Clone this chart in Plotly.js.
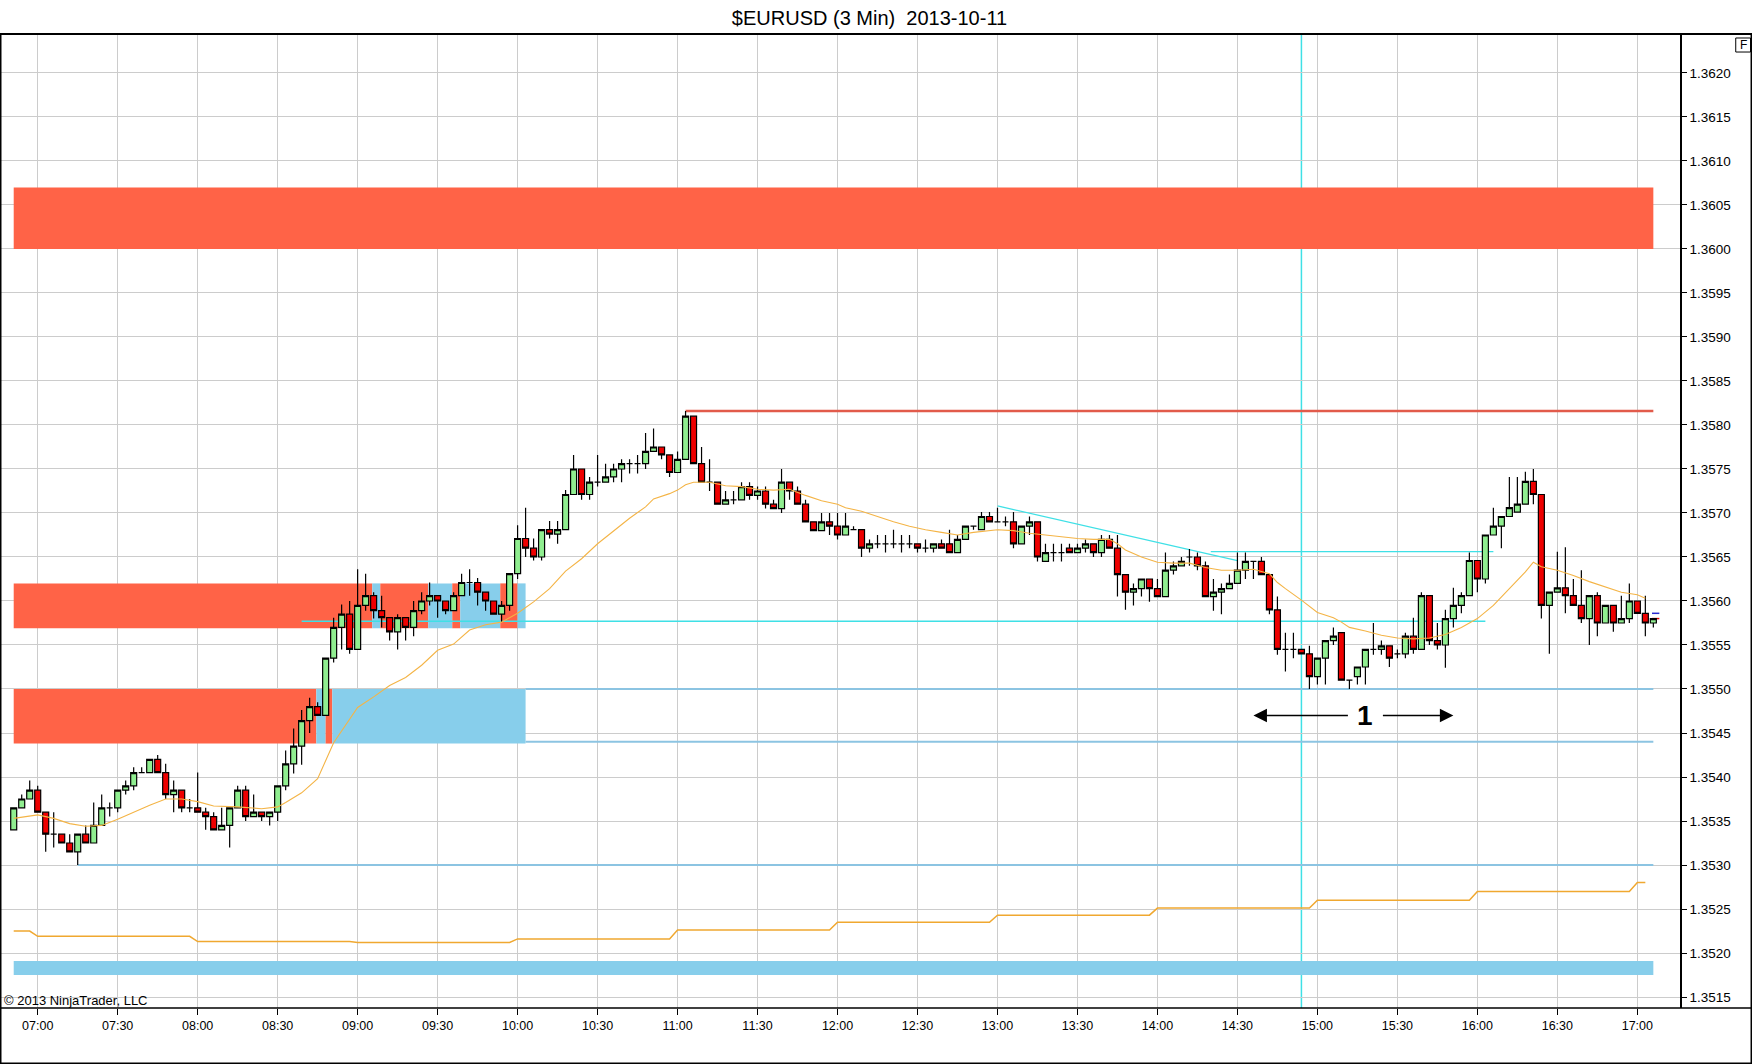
<!DOCTYPE html>
<html>
<head>
<meta charset="utf-8">
<title>$EURUSD (3 Min) 2013-10-11</title>
<script src="https://cdn.plot.ly/plotly-3.0.1.min.js"></script>
<style>
  html, body { margin: 0; padding: 0; background: #ffffff; }
  #grafico { width: 1752px; height: 1064px; }
</style>
</head>
<body>
<div id="grafico"></div>
<script>
const day = '2013-10-11 ';
const firstBar = '06:51';
const barMinutes = 3;

// OHLC, one value per 3 min bar from 06:51 to 17:06
const opens = [
  1.35340, 1.35365, 1.35375, 1.35385, 1.35360, 1.35335, 1.35335, 1.35325, 1.35315, 1.35335,
  1.35325, 1.35345, 1.35365, 1.35365, 1.35385, 1.35390, 1.35405, 1.35405, 1.35420, 1.35405,
  1.35380, 1.35385, 1.35365, 1.35365, 1.35360, 1.35355, 1.35340, 1.35345, 1.35365, 1.35385,
  1.35355, 1.35360, 1.35355, 1.35360, 1.35390, 1.35415, 1.35435, 1.35464, 1.35480, 1.35470,
  1.35535, 1.35570, 1.35585, 1.35545, 1.35595, 1.35606, 1.35589, 1.35581, 1.35565, 1.35581,
  1.35570, 1.35589, 1.35600, 1.35606, 1.35600, 1.35589, 1.35606, 1.35621, 1.35621, 1.35610,
  1.35600, 1.35585, 1.35595, 1.35631, 1.35671, 1.35660, 1.35650, 1.35681, 1.35676, 1.35681,
  1.35721, 1.35750, 1.35721, 1.35735, 1.35735, 1.35741, 1.35750, 1.35756, 1.35756, 1.35756,
  1.35770, 1.35775, 1.35766, 1.35746, 1.35761, 1.35810, 1.35756, 1.35735, 1.35735, 1.35710,
  1.35715, 1.35715, 1.35730, 1.35720, 1.35725, 1.35710, 1.35705, 1.35735, 1.35725, 1.35710,
  1.35690, 1.35680, 1.35690, 1.35685, 1.35675, 1.35681, 1.35681, 1.35660, 1.35665, 1.35665,
  1.35665, 1.35665, 1.35665, 1.35665, 1.35660, 1.35660, 1.35665, 1.35665, 1.35655, 1.35670,
  1.35685, 1.35681, 1.35696, 1.35690, 1.35690, 1.35690, 1.35665, 1.35685, 1.35690, 1.35645,
  1.35655, 1.35655, 1.35660, 1.35655, 1.35660, 1.35665, 1.35655, 1.35670, 1.35660, 1.35630,
  1.35610, 1.35614, 1.35625, 1.35614, 1.35605, 1.35635, 1.35640, 1.35650, 1.35650, 1.35640,
  1.35605, 1.35610, 1.35614, 1.35620, 1.35635, 1.35645, 1.35645, 1.35630, 1.35590, 1.35545,
  1.35545, 1.35545, 1.35540, 1.35514, 1.35535, 1.35555, 1.35564, 1.35510, 1.35514, 1.35525,
  1.35545, 1.35545, 1.35549, 1.35540, 1.35540, 1.35560, 1.35545, 1.35606, 1.35555, 1.35550,
  1.35580, 1.35595, 1.35606, 1.35646, 1.35625, 1.35675, 1.35685, 1.35696, 1.35701, 1.35710,
  1.35736, 1.35721, 1.35595, 1.35610, 1.35615, 1.35606, 1.35595, 1.35580, 1.35606, 1.35575,
  1.35595, 1.35575, 1.35580, 1.35600, 1.35586, 1.35575
];
const highs = [
  1.35365, 1.35380, 1.35396, 1.35390, 1.35360, 1.35360, 1.35335, 1.35335, 1.35335, 1.35345,
  1.35371, 1.35380, 1.35371, 1.35385, 1.35396, 1.35411, 1.35411, 1.35420, 1.35425, 1.35415,
  1.35396, 1.35385, 1.35375, 1.35405, 1.35365, 1.35360, 1.35365, 1.35365, 1.35390, 1.35390,
  1.35380, 1.35360, 1.35360, 1.35390, 1.35430, 1.35455, 1.35476, 1.35490, 1.35485, 1.35535,
  1.35581, 1.35596, 1.35600, 1.35636, 1.35631, 1.35610, 1.35606, 1.35581, 1.35585, 1.35581,
  1.35600, 1.35610, 1.35621, 1.35606, 1.35600, 1.35610, 1.35631, 1.35636, 1.35626, 1.35610,
  1.35600, 1.35600, 1.35631, 1.35686, 1.35706, 1.35671, 1.35681, 1.35691, 1.35691, 1.35726,
  1.35766, 1.35750, 1.35741, 1.35766, 1.35756, 1.35756, 1.35761, 1.35761, 1.35766, 1.35791,
  1.35796, 1.35775, 1.35766, 1.35770, 1.35816, 1.35810, 1.35775, 1.35761, 1.35735, 1.35725,
  1.35725, 1.35735, 1.35735, 1.35730, 1.35730, 1.35715, 1.35750, 1.35735, 1.35730, 1.35715,
  1.35690, 1.35700, 1.35700, 1.35700, 1.35700, 1.35685, 1.35681, 1.35670, 1.35675, 1.35675,
  1.35681, 1.35675, 1.35675, 1.35665, 1.35670, 1.35665, 1.35670, 1.35681, 1.35675, 1.35685,
  1.35685, 1.35701, 1.35701, 1.35706, 1.35696, 1.35701, 1.35685, 1.35696, 1.35690, 1.35665,
  1.35665, 1.35665, 1.35665, 1.35665, 1.35670, 1.35665, 1.35675, 1.35675, 1.35675, 1.35630,
  1.35620, 1.35625, 1.35625, 1.35625, 1.35655, 1.35645, 1.35650, 1.35659, 1.35655, 1.35645,
  1.35625, 1.35620, 1.35630, 1.35655, 1.35655, 1.35645, 1.35650, 1.35630, 1.35605, 1.35564,
  1.35564, 1.35545, 1.35549, 1.35535, 1.35555, 1.35570, 1.35564, 1.35510, 1.35525, 1.35545,
  1.35575, 1.35555, 1.35549, 1.35545, 1.35564, 1.35581, 1.35610, 1.35606, 1.35575, 1.35590,
  1.35615, 1.35610, 1.35655, 1.35646, 1.35675, 1.35706, 1.35696, 1.35741, 1.35741, 1.35747,
  1.35750, 1.35721, 1.35610, 1.35656, 1.35661, 1.35625, 1.35635, 1.35606, 1.35610, 1.35595,
  1.35595, 1.35606, 1.35620, 1.35600, 1.35606, 1.35580
];
const lows = [
  1.35340, 1.35365, 1.35375, 1.35360, 1.35315, 1.35320, 1.35325, 1.35315, 1.35300, 1.35325,
  1.35325, 1.35345, 1.35355, 1.35360, 1.35380, 1.35385, 1.35405, 1.35405, 1.35405, 1.35375,
  1.35360, 1.35360, 1.35360, 1.35360, 1.35340, 1.35340, 1.35340, 1.35320, 1.35365, 1.35350,
  1.35355, 1.35350, 1.35345, 1.35350, 1.35385, 1.35404, 1.35414, 1.35450, 1.35470, 1.35470,
  1.35530, 1.35545, 1.35540, 1.35545, 1.35589, 1.35580, 1.35570, 1.35555, 1.35545, 1.35555,
  1.35560, 1.35585, 1.35595, 1.35581, 1.35585, 1.35589, 1.35606, 1.35606, 1.35595, 1.35589,
  1.35585, 1.35576, 1.35589, 1.35625, 1.35650, 1.35646, 1.35646, 1.35671, 1.35665, 1.35681,
  1.35721, 1.35715, 1.35715, 1.35730, 1.35735, 1.35735, 1.35735, 1.35745, 1.35745, 1.35750,
  1.35770, 1.35761, 1.35741, 1.35746, 1.35761, 1.35756, 1.35735, 1.35725, 1.35710, 1.35710,
  1.35710, 1.35715, 1.35715, 1.35715, 1.35705, 1.35705, 1.35700, 1.35715, 1.35710, 1.35690,
  1.35680, 1.35680, 1.35675, 1.35670, 1.35675, 1.35681, 1.35650, 1.35655, 1.35660, 1.35655,
  1.35660, 1.35655, 1.35660, 1.35655, 1.35655, 1.35655, 1.35660, 1.35655, 1.35655, 1.35670,
  1.35681, 1.35681, 1.35690, 1.35690, 1.35685, 1.35660, 1.35665, 1.35675, 1.35645, 1.35645,
  1.35645, 1.35645, 1.35655, 1.35655, 1.35655, 1.35650, 1.35650, 1.35660, 1.35605, 1.35590,
  1.35595, 1.35605, 1.35599, 1.35605, 1.35605, 1.35630, 1.35640, 1.35640, 1.35635, 1.35605,
  1.35589, 1.35585, 1.35614, 1.35620, 1.35625, 1.35625, 1.35630, 1.35585, 1.35539, 1.35520,
  1.35535, 1.35540, 1.35500, 1.35505, 1.35505, 1.35550, 1.35510, 1.35500, 1.35505, 1.35505,
  1.35539, 1.35539, 1.35525, 1.35535, 1.35535, 1.35540, 1.35545, 1.35550, 1.35545, 1.35524,
  1.35570, 1.35586, 1.35606, 1.35610, 1.35620, 1.35675, 1.35660, 1.35696, 1.35701, 1.35710,
  1.35710, 1.35580, 1.35540, 1.35610, 1.35586, 1.35595, 1.35575, 1.35550, 1.35560, 1.35575,
  1.35565, 1.35575, 1.35575, 1.35586, 1.35560, 1.35570
];
const closes = [
  1.35365, 1.35375, 1.35385, 1.35360, 1.35335, 1.35335, 1.35325, 1.35315, 1.35335, 1.35325,
  1.35345, 1.35365, 1.35365, 1.35385, 1.35390, 1.35405, 1.35405, 1.35420, 1.35405, 1.35380,
  1.35385, 1.35365, 1.35365, 1.35360, 1.35355, 1.35340, 1.35345, 1.35365, 1.35385, 1.35355,
  1.35360, 1.35355, 1.35360, 1.35390, 1.35415, 1.35435, 1.35464, 1.35480, 1.35470, 1.35535,
  1.35570, 1.35585, 1.35545, 1.35595, 1.35606, 1.35589, 1.35581, 1.35565, 1.35581, 1.35570,
  1.35589, 1.35600, 1.35606, 1.35600, 1.35589, 1.35606, 1.35621, 1.35621, 1.35610, 1.35600,
  1.35585, 1.35595, 1.35631, 1.35671, 1.35660, 1.35650, 1.35681, 1.35676, 1.35681, 1.35721,
  1.35750, 1.35721, 1.35735, 1.35735, 1.35741, 1.35750, 1.35756, 1.35756, 1.35756, 1.35770,
  1.35775, 1.35766, 1.35746, 1.35761, 1.35810, 1.35756, 1.35735, 1.35735, 1.35710, 1.35715,
  1.35715, 1.35730, 1.35720, 1.35725, 1.35710, 1.35705, 1.35735, 1.35725, 1.35710, 1.35690,
  1.35680, 1.35690, 1.35685, 1.35675, 1.35685, 1.35681, 1.35660, 1.35665, 1.35665, 1.35665,
  1.35665, 1.35665, 1.35665, 1.35660, 1.35660, 1.35665, 1.35660, 1.35655, 1.35670, 1.35685,
  1.35685, 1.35696, 1.35690, 1.35690, 1.35690, 1.35665, 1.35685, 1.35690, 1.35650, 1.35655,
  1.35655, 1.35655, 1.35655, 1.35660, 1.35665, 1.35655, 1.35670, 1.35660, 1.35630, 1.35610,
  1.35614, 1.35625, 1.35614, 1.35605, 1.35635, 1.35640, 1.35645, 1.35650, 1.35640, 1.35605,
  1.35610, 1.35614, 1.35620, 1.35635, 1.35645, 1.35645, 1.35630, 1.35590, 1.35545, 1.35545,
  1.35545, 1.35540, 1.35514, 1.35535, 1.35555, 1.35560, 1.35510, 1.35510, 1.35525, 1.35545,
  1.35545, 1.35549, 1.35535, 1.35540, 1.35560, 1.35545, 1.35606, 1.35555, 1.35550, 1.35580,
  1.35595, 1.35606, 1.35646, 1.35625, 1.35675, 1.35685, 1.35696, 1.35706, 1.35710, 1.35736,
  1.35721, 1.35595, 1.35610, 1.35615, 1.35606, 1.35595, 1.35580, 1.35606, 1.35575, 1.35595,
  1.35575, 1.35580, 1.35600, 1.35586, 1.35575, 1.35580
];

// moving average, read at sample bars
const maTimes = [
  '06:51', '07:00', '07:06', '07:12', '07:18', '07:24', '07:30', '07:36', '07:42', '07:48',
  '07:54', '08:00', '08:06', '08:15', '08:24', '08:30', '08:33', '08:39', '08:45', '08:51',
  '08:57', '09:00', '09:06', '09:12', '09:18', '09:24', '09:30', '09:36', '09:42', '09:48',
  '09:54', '10:00', '10:06', '10:12', '10:18', '10:24', '10:30', '10:36', '10:42', '10:48',
  '10:51', '10:57', '11:00', '11:03', '11:06', '11:12', '11:18', '11:24', '11:30', '11:36',
  '11:42', '11:48', '11:54', '12:00', '12:03', '12:09', '12:15', '12:21', '12:27', '12:33',
  '12:39', '12:45', '12:51', '12:57', '13:00', '13:06', '13:12', '13:18', '13:24', '13:30',
  '13:36', '13:42', '13:45', '13:48', '13:54', '14:00', '14:06', '14:12', '14:18', '14:24',
  '14:30', '14:36', '14:42', '14:45', '14:48', '14:51', '14:54', '15:00', '15:06', '15:09',
  '15:12', '15:18', '15:24', '15:30', '15:36', '15:42', '15:48', '15:54', '16:00', '16:06',
  '16:12', '16:18', '16:21', '16:24', '16:30', '16:36', '16:42', '16:48', '16:54', '17:00',
  '17:03'
];
const maValues = [
  1.35353, 1.35357, 1.35353, 1.35347, 1.35344, 1.35345, 1.35352, 1.35360, 1.35368, 1.35375,
  1.35375, 1.35372, 1.35367, 1.35366, 1.35364, 1.35366, 1.35371, 1.35382, 1.35398, 1.35439,
  1.35466, 1.35479, 1.35491, 1.35504, 1.35513, 1.35527, 1.35544, 1.35551, 1.35567, 1.35573,
  1.35576, 1.35586, 1.35599, 1.35614, 1.35634, 1.35648, 1.35665, 1.35680, 1.35694, 1.35707,
  1.35716, 1.35722, 1.35726, 1.35732, 1.35735, 1.35735, 1.35731, 1.35730, 1.35727, 1.35726,
  1.35727, 1.35720, 1.35714, 1.35710, 1.35706, 1.35702, 1.35696, 1.35690, 1.35685, 1.35681,
  1.35678, 1.35675, 1.35678, 1.35680, 1.35681, 1.35680, 1.35677, 1.35675, 1.35673, 1.35671,
  1.35670, 1.35670, 1.35665, 1.35658, 1.35650, 1.35644, 1.35643, 1.35643, 1.35638, 1.35635,
  1.35635, 1.35636, 1.35631, 1.35621, 1.35614, 1.35608, 1.35601, 1.35587, 1.35581, 1.35576,
  1.35570, 1.35566, 1.35561, 1.35558, 1.35557, 1.35558, 1.35562, 1.35570, 1.35580, 1.35595,
  1.35614, 1.35633, 1.35644, 1.35639, 1.35635, 1.35629, 1.35622, 1.35616, 1.35610, 1.35607,
  1.35603
];

// hourly step line near the bottom
const stepTimes = [
  '06:51', '06:57', '07:00', '07:57', '08:00', '08:57', '09:00', '09:57', '10:00', '10:57',
  '11:00', '11:57', '12:00', '12:57', '13:00', '13:57', '14:00', '14:57', '15:00', '15:57',
  '16:00', '16:57', '17:00', '17:03'
];
const stepValues = [
  1.35225, 1.35225, 1.35219, 1.35219, 1.35213, 1.35213, 1.35212, 1.35212, 1.35216, 1.35216,
  1.35226, 1.35226, 1.35235, 1.35235, 1.35243, 1.35243, 1.35251, 1.35251, 1.35260, 1.35260,
  1.35270, 1.35270, 1.35280, 1.35280
];

// zones: [bottom, top] prices
const zoneHigh = [1.36000, 1.36070];
const zoneMid = [1.35569, 1.35620];
const zoneLow = [1.35438, 1.35500];
const zoneFloor = [1.35175, 1.35191];
const zoneEnd = '17:06';
const midBreaks = ['06:51', '09:05:30', '09:08:30', '09:26:30', '09:35:30', '09:38:30', '09:53:30', '10:00', '10:03'];
const midKinds = ['supply', 'demand', 'supply', 'demand', 'supply', 'demand', 'supply', 'demand'];
const lowBreaks = ['06:51', '08:44:30', '08:48', '08:50:30', '10:03'];
const lowKinds = ['supply', 'demand', 'supply', 'demand'];

// horizontal levels: price, from, to
const levelPrices = [1.35816, 1.35656, 1.35577, 1.35500, 1.35440, 1.35300];
const levelStarts = ['11:03', '14:20', '08:39', '10:03', '10:03', '07:15'];
const levelEnds = ['17:06', '16:06', '16:03', '17:06', '17:06', '17:06'];
const levelKinds = ['resistance', 'trend', 'trend', 'support', 'support', 'support'];

const trendFrom = ['13:00', 1.35708];
const trendTo = ['14:30', 1.35646];
const markerTime = '14:54';
const lastPrices = [1.35586, 1.35580];

const rangeLabel = '1';
const rangeLabelAt = ['15:18', 1.35470];
const arrowLeft = ['15:12', '14:36'];
const arrowRight = ['15:24', '15:51'];

const chartTitle = '$EURUSD (3 Min)\u00a0 2013-10-11';
const copyright = '\u00a9 2013 NinjaTrader, LLC';

const font = 'Liberation Sans, Arial, sans-serif';
const colors = {
  supply: '#ff6347',
  demand: '#87ceeb',
  resistance: '#e25b4b',
  trend: '#3fe0e6',
  support: '#8cc4e2',
  grid: '#cccccc',
  ma: '#f4b446',
  step: '#f0a830'
};

function t(hhmm) {
  return day + hhmm;
}

function barTimes() {
  const [h, m] = firstBar.split(':').map(Number);
  return opens.map((_, i) => {
    const total = h * 60 + m + i * barMinutes;
    const hh = String(Math.floor(total / 60)).padStart(2, '0');
    const mm = String(total % 60).padStart(2, '0');
    return t(hh + ':' + mm);
  });
}

function rect(x0, x1, band, color) {
  return {
    type: 'rect', xref: 'x', yref: 'y', layer: 'between',
    x0: t(x0), x1: t(x1), y0: band[0], y1: band[1],
    fillcolor: color, line: { width: 0 }
  };
}

function line(x0, y0, x1, y1, color, width) {
  return {
    type: 'line', xref: 'x', yref: 'y', layer: 'between',
    x0: t(x0), x1: t(x1), y0: y0, y1: y1,
    line: { color: color, width: width }
  };
}

function buildShapes() {
  const shapes = [];

  shapes.push(rect(firstBar, zoneEnd, zoneHigh, colors.supply));
  midKinds.forEach((k, i) => shapes.push(rect(midBreaks[i], midBreaks[i + 1], zoneMid, colors[k])));
  lowKinds.forEach((k, i) => shapes.push(rect(lowBreaks[i], lowBreaks[i + 1], zoneLow, colors[k])));
  shapes.push(rect(firstBar, zoneEnd, zoneFloor, colors.demand));

  levelPrices.forEach((p, i) => {
    const k = levelKinds[i];
    const w = k === 'resistance' ? 2.5 : (k === 'support' ? 2 : 1.3);
    shapes.push(line(levelStarts[i], p, levelEnds[i], p, colors[k], w));
  });

  shapes.push(line(trendFrom[0], trendFrom[1], trendTo[0], trendTo[1], colors.trend, 1.3));

  // vertical marker across the whole plot
  shapes.push({
    type: 'line', xref: 'x', yref: 'paper', layer: 'between',
    x0: t(markerTime), x1: t(markerTime), y0: 0, y1: 1,
    line: { color: colors.trend, width: 1.5 }
  });

  // last price ticks
  shapes.push(line('17:05:30', lastPrices[0], '17:08:15', lastPrices[0], '#2a2ad0', 1.5));
  shapes.push(line('17:05:30', lastPrices[1], '17:08:15', lastPrices[1], '#e00000', 1.5));

  // outer frame, full width time axis line, F box
  shapes.push({
    type: 'rect', xref: 'paper', yref: 'paper', layer: 'above',
    x0: -0.0003, x1: 1.0426, y0: -0.057, y1: 1,
    line: { color: '#000', width: 2 }
  });
  shapes.push({
    type: 'line', xref: 'paper', yref: 'paper', layer: 'above',
    x0: -0.0003, x1: 1.0426, y0: 0, y1: 0,
    line: { color: '#000', width: 1.5 }
  });
  shapes.push({
    type: 'rect', xref: 'paper', yref: 'paper', layer: 'above',
    x0: 1.0332, x1: 1.0420, y0: 0.9815, y1: 0.9959,
    line: { color: '#000', width: 1 }
  });

  return shapes;
}

function buildAnnotations() {
  const arrow = (head, tail) => ({
    x: t(head), y: rangeLabelAt[1], ax: t(tail), ay: rangeLabelAt[1],
    xref: 'x', yref: 'y', axref: 'x', ayref: 'y',
    text: '', showarrow: true, arrowhead: 2, arrowsize: 1.8,
    arrowwidth: 1.5, arrowcolor: '#000', standoff: 0, startstandoff: 0
  });

  return [
    {
      x: t(rangeLabelAt[0]), y: rangeLabelAt[1], xref: 'x', yref: 'y',
      text: '<b>' + rangeLabel + '</b>', showarrow: false,
      font: { family: font, size: 28, color: '#000' }
    },
    arrow(arrowLeft[1], arrowLeft[0]),
    arrow(arrowRight[1], arrowRight[0]),
    {
      x: 0.0006, y: 0.0082, xref: 'paper', yref: 'paper',
      xanchor: 'left', yanchor: 'middle', showarrow: false,
      text: copyright, font: { family: font, size: 13, color: '#000' }
    },
    {
      x: 1.0376, y: 0.9887, xref: 'paper', yref: 'paper',
      xanchor: 'center', yanchor: 'middle', showarrow: false,
      text: 'F', font: { family: font, size: 12, color: '#000' }
    }
  ];
}

function buildTraces() {
  const velas = {
    type: 'candlestick',
    x: barTimes(),
    open: opens, high: highs, low: lows, close: closes,
    increasing: { line: { color: '#000', width: 1.2 }, fillcolor: '#90ee90' },
    decreasing: { line: { color: '#000', width: 1.2 }, fillcolor: '#ee0000' },
    whiskerwidth: 0,
    hoverinfo: 'skip'
  };

  const media = {
    type: 'scatter', mode: 'lines',
    x: maTimes.map(t), y: maValues,
    line: { color: colors.ma, width: 1.1 },
    hoverinfo: 'skip'
  };

  const escalones = {
    type: 'scatter', mode: 'lines',
    x: stepTimes.map(t), y: stepValues,
    line: { color: colors.step, width: 1.5 },
    hoverinfo: 'skip'
  };

  return [escalones, media, velas];
}

function draw() {
  const layout = {
    width: 1752,
    height: 1064,
    margin: { l: 1, r: 72, t: 34, b: 56, pad: 0 },
    paper_bgcolor: '#ffffff',
    plot_bgcolor: '#ffffff',
    showlegend: false,
    boxgap: 0.25,
    boxgroupgap: 0,
    title: {
      text: chartTitle,
      x: 869.5 / 1752, xref: 'container', xanchor: 'center',
      y: 1 - 17.5 / 1064, yref: 'container', yanchor: 'middle',
      font: { family: font, size: 20, color: '#000' }
    },
    xaxis: {
      type: 'date',
      range: [t('06:46:14'), t('17:16:00')],
      rangeslider: { visible: false },
      tickformat: '%H:%M',
      tick0: t('07:00'),
      dtick: 30 * 60 * 1000,
      showgrid: true, gridcolor: colors.grid, gridwidth: 1,
      ticks: 'outside', ticklen: 6, tickcolor: '#000',
      showline: false, zeroline: false,
      tickfont: { family: font, size: 12.5, color: '#000' },
      fixedrange: true
    },
    yaxis: {
      side: 'right',
      range: [1.351375, 1.362443],
      tick0: 1.35, dtick: 0.0005, tickformat: '.4f',
      showgrid: true, gridcolor: colors.grid, gridwidth: 1,
      ticks: 'outside', ticklen: 5, tickcolor: '#000',
      showline: true, linecolor: '#000', linewidth: 1.5,
      zeroline: false,
      tickfont: { family: font, size: 13.5, color: '#000' },
      fixedrange: true
    },
    shapes: buildShapes(),
    annotations: buildAnnotations()
  };

  Plotly.newPlot('grafico', buildTraces(), layout, { displayModeBar: false, responsive: false });
}

document.addEventListener('DOMContentLoaded', () => {
  draw();
});
</script>
</body>
</html>
